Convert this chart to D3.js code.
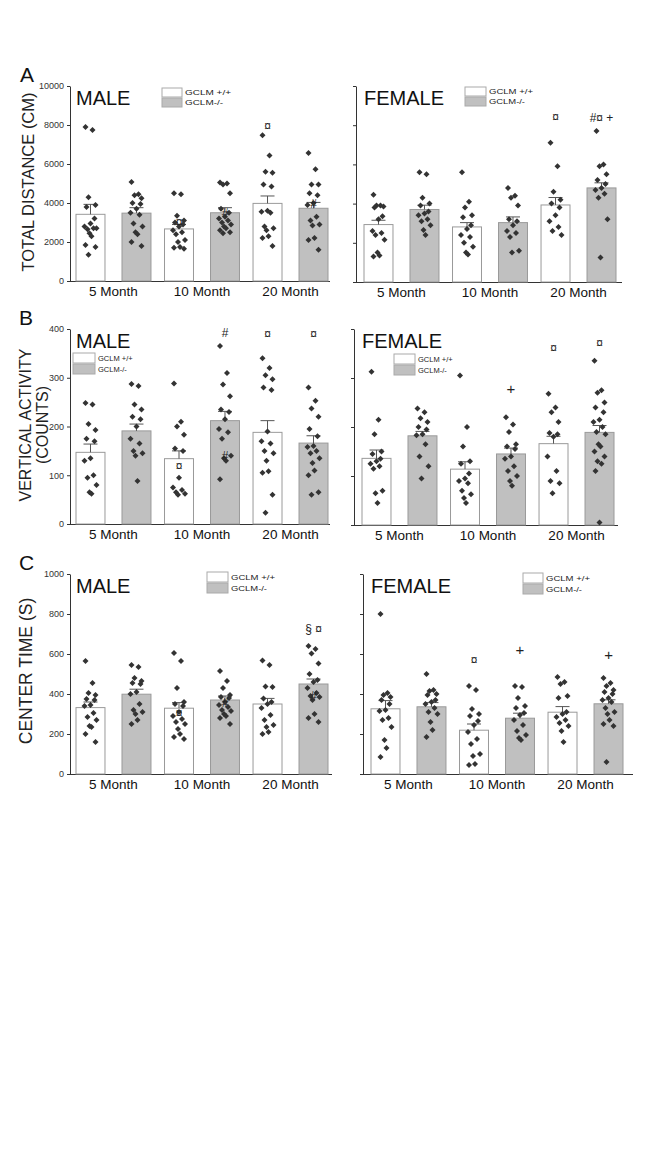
<!DOCTYPE html>
<html lang="en">
<meta charset="utf-8">
<head>
    <script src='https://d3js.org/d3.v7.min.js'></script>
    <style>
        body { margin: 0; background: #fff; }
        text { font-family: "Liberation Sans", Arial, sans-serif; }
    </style>
</head>
<body>
</body>

<script>
    var width = 650, height = 1156;

    // categories
    var months = ["5 Month", "10 Month", "20 Month"];
    var genotypes = ["GCLM +/+", "GCLM-/-"];

    // order of every series below: 5WT, 5KO, 10WT, 10KO, 20WT, 20KO
    // A - total distance (cm)
    var distMaleMean = [3420, 3480, 2670, 3500, 3980, 3730];
    var distMaleSem = [510, 280, 230, 260, 380, 300];
    var distMalePts = [
        [7900, 7750, 4300, 3900, 3800, 3200, 2950, 2800, 2700, 2650, 2700, 2450, 2300, 1850, 1750, 1350],
        [5080, 4450, 4400, 4250, 4000, 3950, 3700, 3500, 3400, 2950, 2800, 2500, 2400, 2000, 1800],
        [4500, 4450, 3350, 3100, 3000, 2900, 2800, 2600, 2500, 2400, 2100, 2000, 1750, 1700, 1650],
        [5050, 5000, 4950, 4500, 3700, 3500, 3300, 3200, 3100, 3000, 2900, 2800, 2700, 2600, 2500, 2450],
        [7480, 6430, 5600, 5550, 4950, 4850, 3600, 3550, 3500, 2800, 2700, 2600, 2300, 2200, 1800],
        [6560, 5730, 4950, 4950, 4500, 4400, 4000, 3900, 3300, 3100, 2900, 2850, 2200, 2100, 1600]
    ];
    var distMaleNotes = [[2, 3050, "¤"], [3, 3500, "#"], [4, 7970, "¤"], [5, 3950, "#"]];

    var distFemaleMean = [2930, 3700, 2810, 3030, 3930, 4800];
    var distFemaleSem = [220, 220, 220, 290, 380, 260];
    var distFemalePts = [
        [4450, 3900, 3900, 3850, 3800, 3350, 3200, 2600, 2500, 2400, 2150, 1500, 1350, 1300],
        [5600, 5500, 4300, 4000, 3900, 3600, 3500, 3400, 3200, 3100, 2900, 2650, 2400],
        [5600, 4100, 3800, 3400, 3300, 2900, 2700, 2400, 2300, 2000, 1800, 1500, 1400],
        [4800, 4400, 4300, 3900, 3200, 3100, 2900, 2600, 2500, 2300, 1600, 1500],
        [7100, 5900, 4600, 4200, 4000, 3800, 3400, 3100, 2800, 2600, 2400],
        [7700, 6000, 5900, 5500, 5200, 5000, 4800, 4700, 4500, 4300, 3200, 1250]
    ];
    var distFemaleNotes = [[4, 8400, "¤"], [5, 8350, "#¤ +"]];

    // B - vertical activity (counts)
    var vertMaleMean = [147, 191, 134, 212, 188, 166];
    var vertMaleSem = [17, 14, 16, 19, 24, 15];
    var vertMalePts = [
        [248, 245, 205, 193, 175, 170, 135, 130, 100, 95, 80, 65, 62],
        [287, 283, 245, 235, 220, 215, 200, 175, 165, 150, 145, 140, 88],
        [288, 210, 200, 183, 155, 150, 95, 75, 70, 65, 62, 60],
        [365, 310, 286, 262, 235, 230, 215, 195, 188, 175, 140, 135, 130, 92],
        [340, 320, 305, 297, 280, 275, 190, 170, 165, 150, 145, 130, 108, 105, 60, 23],
        [280, 253, 237, 220, 195, 180, 160, 158, 150, 145, 135, 125, 110, 100, 65, 60]
    ];
    var vertMaleNotes = [[2, 120, "¤"], [3, 392, "#"], [3, 140, "#"], [4, 390, "¤"], [5, 390, "¤"]];

    var vertFemaleMean = [136, 182, 114, 145, 166, 189];
    var vertFemaleSem = [17, 9, 15, 12, 15, 14];
    var vertFemalePts = [
        [313, 215, 185, 150, 145, 135, 130, 125, 120, 115, 70, 65, 45],
        [238, 230, 218, 210, 200, 195, 185, 183, 165, 140, 120, 95],
        [305, 200, 160, 130, 125, 105, 95, 90, 85, 70, 63, 55, 45],
        [220, 205, 190, 165, 160, 155, 140, 135, 120, 110, 100, 90, 80],
        [268, 240, 230, 210, 188, 185, 180, 140, 110, 90, 85, 65],
        [335, 275, 270, 250, 240, 230, 215, 210, 200, 190, 185, 165, 160, 150, 140, 130, 125, 110, 5]
    ];
    var vertFemaleNotes = [[3, 279, "+"], [4, 362, "¤"], [5, 371, "¤"]];

    // C - center time (s)
    var centerMaleMean = [332, 399, 329, 370, 350, 450];
    var centerMaleSem = [28, 25, 28, 20, 28, 25];
    var centerMalePts = [
        [565, 455, 405, 395, 375, 370, 345, 340, 305, 285, 270, 240, 235, 200, 160],
        [545, 535, 480, 465, 455, 450, 410, 400, 350, 320, 310, 300, 270, 250],
        [605, 565, 430, 360, 350, 340, 310, 290, 275, 260, 250, 225, 200, 185, 175],
        [515, 465, 430, 395, 385, 380, 360, 345, 335, 320, 315, 300, 290, 280, 250],
        [567, 545, 437, 435, 378, 360, 350, 330, 295, 270, 245, 235, 210, 200],
        [640, 625, 603, 553, 500, 470, 460, 430, 405, 390, 385, 370, 300, 280, 260]
    ];
    var centerMaleNotes = [[2, 307, "¤"], [3, 357, "#"], [5, 392, "#"], [5, 723, "§ ¤"]];

    var centerFemaleMean = [326, 336, 219, 279, 309, 351];
    var centerFemaleSem = [41, 21, 31, 25, 28, 20];
    var centerFemalePts = [
        [800, 405, 395, 385, 370, 350, 320, 315, 280, 270, 235, 170, 130, 85],
        [500, 420, 415, 400, 395, 370, 360, 350, 330, 310, 300, 260, 220, 185],
        [440, 420, 325, 300, 290, 265, 245, 210, 175, 150, 100, 90, 50, 45],
        [440, 435, 380, 340, 330, 305, 295, 270, 245, 215, 195, 180, 170],
        [485, 460, 450, 390, 380, 310, 300, 285, 270, 255, 240, 215, 160],
        [480, 455, 440, 420, 410, 400, 380, 370, 360, 330, 310, 300, 270, 250, 240, 60]
    ];
    var centerFemaleNotes = [[2, 568, "¤"], [3, 624, "+"], [5, 599, "+"]];

    // setup svg
    var svg = d3.select('body').append('svg').attr('width', width).attr('height', height);
    svg.append('rect').attr('width', width).attr('height', height).attr('fill', '#fff');

    var barFill = ['#ffffff', '#c0c0c0'];
    var jitter = [-5, 2, -2, 5, -4, 4, 0, -6, 3, -3, 6, -1, 1, -5, 5, -2, 2, -4, 0];

    function panel(o) {
        var g = svg.append('g');
        var y = d3.scaleLinear().domain([0, o.max]).range([o.bot, o.top]);
        var gx = d3.scaleBand().domain(months)
            .range([o.x0 + o.pad, o.x0 + o.pad + 252]).paddingInner(0.153).paddingOuter(0);
        var gg = d3.scaleBand().domain([0, 1]).range([0, gx.bandwidth()]).paddingInner(0.37);

        var bars = [];
        months.forEach(function(m, mi) {
            [0, 1].forEach(function(gi) {
                var k = mi * 2 + gi;
                bars.push({m: m, gi: gi, mean: o.mean[k], sem: o.sem[k], pts: o.pts[k]});
            });
        });
        function cx(d) { return gx(d.m) + gg(d.gi) + gg.bandwidth() / 2; }

        // y axis
        var ya = g.append('g').attr('transform', 'translate(' + o.x0 + ',0)')
            .call(d3.axisLeft(y).tickValues(d3.range(0, o.max + 1, o.step))
                .tickSize(3).tickSizeOuter(0)
                .tickFormat(o.labels ? d3.format('d') : ''));
        ya.selectAll('text').attr('font-size', 9).attr('fill', '#333')
            .attr('font-family', 'Liberation Sans, Arial, sans-serif');
        ya.selectAll('line,path').attr('stroke', '#333');

        // x axis
        var xa = g.append('g').attr('transform', 'translate(0,' + o.bot + ')')
            .call(d3.axisBottom(gx).tickSize(0));
        xa.select('.domain').remove();
        xa.selectAll('text').attr('font-size', 13.5).attr('fill', '#111').attr('dy', '0.9em')
            .attr('font-family', 'Liberation Sans, Arial, sans-serif');
        g.append('line').attr('x1', o.x0).attr('x2', o.x0 + o.len)
            .attr('y1', o.bot + 0.5).attr('y2', o.bot + 0.5).attr('stroke', '#333');

        // bars
        g.selectAll('rect.bar').data(bars).join('rect').attr('class', 'bar')
            .attr('x', function(d) { return gx(d.m) + gg(d.gi); })
            .attr('width', gg.bandwidth())
            .attr('y', function(d) { return y(d.mean); })
            .attr('height', function(d) { return o.bot - y(d.mean); })
            .attr('fill', function(d) { return barFill[d.gi]; })
            .attr('stroke', '#9a9a9a').attr('stroke-width', 1);

        // error bars (upper)
        var eb = g.selectAll('g.err').data(bars).join('g').attr('class', 'err');
        eb.append('line')
            .attr('x1', cx).attr('x2', cx)
            .attr('y1', function(d) { return y(d.mean); })
            .attr('y2', function(d) { return y(d.mean + d.sem); })
            .attr('stroke', '#555');
        eb.append('line')
            .attr('x1', function(d) { return cx(d) - 7; })
            .attr('x2', function(d) { return cx(d) + 7; })
            .attr('y1', function(d) { return y(d.mean + d.sem); })
            .attr('y2', function(d) { return y(d.mean + d.sem); })
            .attr('stroke', '#555');

        // individual points
        var diamond = d3.symbol().type(d3.symbolSquare).size(18);
        bars.forEach(function(b) {
            g.selectAll(null).data(b.pts).join('path')
                .attr('d', diamond)
                .attr('transform', function(v, i) {
                    return 'translate(' + (cx(b) + jitter[i % jitter.length]) + ',' + y(v) + ') rotate(45)';
                })
                .attr('fill', '#333');
        });

        // significance marks
        g.selectAll('text.note').data(o.notes).join('text').attr('class', 'note')
            .attr('x', function(d) { return cx(bars[d[0]]); })
            .attr('y', function(d) { return y(d[1]); })
            .attr('text-anchor', 'middle').attr('dominant-baseline', 'central')
            .attr('font-size', function(d) { return d[2] === '+' ? 15 : 12; })
            .attr('fill', '#222')
            .text(function(d) { return d[2]; });

        // sex title
        g.append('text').attr('x', o.x0 + o.pad).attr('y', o.top + 19)
            .attr('font-size', 20).attr('fill', '#111').text(o.title);

        // legend
        var lg = g.append('g').attr('transform', 'translate(' + o.lx + ',' + o.ly + ')');
        genotypes.forEach(function(name, i) {
            lg.append('rect').attr('x', 0).attr('y', i * (o.lh + 1))
                .attr('width', o.lw).attr('height', o.lh)
                .attr('fill', barFill[i]).attr('stroke', '#aaa');
            var t = lg.append('text').attr('x', o.lw + 3).attr('y', i * (o.lh + 1) + o.lh / 2)
                .attr('dominant-baseline', 'central')
                .attr('font-size', o.lf).attr('fill', '#222').text(name);
            if (o.ltl) t.attr('textLength', o.ltl[i]).attr('lengthAdjust', 'spacingAndGlyphs');
        });
    }

    // panel A
    panel({x0: 70, pad: 6, len: 260, top: 86, bot: 281, max: 10000, step: 2000, labels: true,
        mean: distMaleMean, sem: distMaleSem, pts: distMalePts, notes: distMaleNotes, title: 'MALE',
        lx: 162, ly: 88, lw: 20, lh: 9, lf: 8, ltl: [46, 38]});
    panel({x0: 356, pad: 8, len: 266, top: 86, bot: 282, max: 10000, step: 2000, labels: false,
        mean: distFemaleMean, sem: distFemaleSem, pts: distFemalePts, notes: distFemaleNotes, title: 'FEMALE',
        lx: 465, ly: 87, lw: 21, lh: 9, lf: 8, ltl: [44, 36]});
    // panel B
    panel({x0: 70, pad: 6, len: 260, top: 329, bot: 524, max: 400, step: 100, labels: true,
        mean: vertMaleMean, sem: vertMaleSem, pts: vertMalePts, notes: vertMaleNotes, title: 'MALE',
        lx: 73, ly: 353, lw: 22, lh: 10, lf: 7.5, ltl: null});
    panel({x0: 354, pad: 8, len: 264, top: 329, bot: 525, max: 400, step: 100, labels: false,
        mean: vertFemaleMean, sem: vertFemaleSem, pts: vertFemalePts, notes: vertFemaleNotes, title: 'FEMALE',
        lx: 394, ly: 354, lw: 21, lh: 10, lf: 7.5, ltl: null});
    // panel C
    panel({x0: 70, pad: 6, len: 262, top: 574, bot: 774, max: 1000, step: 200, labels: true,
        mean: centerMaleMean, sem: centerMaleSem, pts: centerMalePts, notes: centerMaleNotes, title: 'MALE',
        lx: 207, ly: 572, lw: 21, lh: 10, lf: 8, ltl: [44, 36]});
    panel({x0: 363, pad: 8, len: 270, top: 574, bot: 774, max: 1000, step: 200, labels: false,
        mean: centerFemaleMean, sem: centerFemaleSem, pts: centerFemalePts, notes: centerFemaleNotes, title: 'FEMALE',
        lx: 523, ly: 573, lw: 20, lh: 10, lf: 8, ltl: [44, 36]});

    // panel letters
    [['A', 20, 82], ['B', 19, 325], ['C', 19, 570]].forEach(function(l) {
        svg.append('text').attr('x', l[1]).attr('y', l[2]).attr('font-size', 21)
            .attr('fill', '#111').text(l[0]);
    });

    // y titles
    function yTitle(lines, x, cy, size, gap) {
        lines.forEach(function(s, i) {
            svg.append('text').attr('transform', 'translate(' + (x + i * gap) + ',' + cy + ') rotate(-90)')
                .attr('text-anchor', 'middle').attr('font-size', size).attr('fill', '#222').text(s);
        });
    }
    yTitle(['TOTAL DISTANCE (CM)'], 34, 182, 16.5, 0);
    yTitle(['VERTICAL ACTIVITY', '(COUNTS)'], 31, 425, 16, 16.5);
    yTitle(['CENTER TIME (S)'], 32, 671, 17.5, 0);

    console.log('ready..');
</script>
